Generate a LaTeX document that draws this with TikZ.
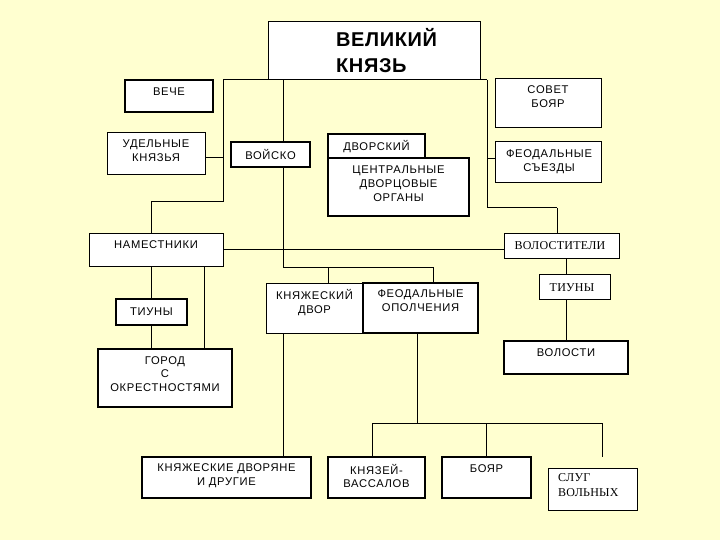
\documentclass[tikz,border=0pt]{standalone}
\usepackage{fontspec}
\newfontfamily\sns[LetterSpace=6]{Liberation Sans}
\newfontfamily\sttl[LetterSpace=3]{Liberation Sans}
\newfontfamily\srf[LetterSpace=2]{Liberation Serif}
\definecolor{bgy}{RGB}{255,255,208}
\begin{document}
\begin{tikzpicture}[x=1pt,y=-1pt,
  bx/.style={draw=black, fill=white, line width=1pt, inner sep=0pt, outer sep=0pt, anchor=north west},
  bxk/.style={bx, line width=1.6pt},
  tx/.style={inner sep=0pt, align=center, anchor=north, font=\sns\fontsize{11.2}{13.7}\selectfont, execute at begin node={\rule{0pt}{9pt}}},
  txs/.style={tx, font=\srf\fontsize{12}{15}\selectfont},
  ttl/.style={inner sep=0pt, align=left, anchor=north west, font=\sttl\bfseries\fontsize{20}{25.7}\selectfont, execute at begin node={\rule{0pt}{18pt}}},
  ln/.style={line width=1pt}]
\fill[bgy] (0,0) rectangle (720,540);
\useasboundingbox (0,0) rectangle (720,540);

% free junction points
\coordinate (jL) at (223,80);
\coordinate (jR) at (487,80);
\coordinate (jV) at (283,80);
\coordinate (a1) at (223,202);
\coordinate (jR2) at (487,208);
\coordinate (dV) at (557,208);
\coordinate (jD) at (283,267);
\coordinate (dA) at (328,267);
\coordinate (dB) at (433,267);
\coordinate (jB) at (417,423);
\coordinate (b1) at (372,423);
\coordinate (b3) at (602,423);
\coordinate (b3e) at (602,457);

% connectors (drawn first, boxes on top)
\draw[ln] (jL) -- (jR);
\draw[ln] (jR) -- (jR2) -- (dV);

% boxes
\node[bx, minimum width=212pt, minimum height=58pt] (title) at (268,22) {};
\node[ttl] (titleT) at (336,28) {ВЕЛИКИЙ\\КНЯЗЬ};

\node[bxk, minimum width=88pt, minimum height=32pt] (veche) at (125,80) {};
\node[tx] (vecheT) at (169,86) {ВЕЧЕ};

\node[bx, minimum width=106pt, minimum height=49pt] (sovet) at (495,79) {};
\node[tx] (sovetT) at (548,85.3) {СОВЕТ\\БОЯР};

\node[bx, minimum width=98pt, minimum height=42pt] (udel) at (107,133) {};
\node[tx] (udelT) at (156,140) {УДЕЛЬНЫЕ\\КНЯЗЬЯ};

\node[bxk, minimum width=79pt, minimum height=25pt] (voisko) at (231,142) {};
\node[tx] (voiskoT) at (270.5,149.3) {ВОЙСКО};

\node[bxk, minimum width=141pt, minimum height=58pt] (central) at (328,158) {};
\node[tx] (centralT) at (398.5,166) {ЦЕНТРАЛЬНЫЕ\\ДВОРЦОВЫЕ\\ОРГАНЫ};
\node[bxk, minimum width=97pt, minimum height=24pt] (dvorsky) at (328,134) {};
\node[tx] (dvorskyT) at (376.5,140.3) {ДВОРСКИЙ};

\node[bx, minimum width=106pt, minimum height=41pt] (sezdy) at (495,142) {};
\node[tx] (sezdyT) at (549,149.3) {ФЕОДАЛЬНЫЕ\\СЪЕЗДЫ};

\node[bx, minimum width=134pt, minimum height=33pt] (namest) at (89,233) {};
\node[tx] (namestT) at (156,239) {НАМЕСТНИКИ};

\node[bx, minimum width=115pt, minimum height=25pt] (volost) at (504,233) {};
\node[txs] (volostT) at (560,240.3) {ВОЛОСТИТЕЛИ};

\node[bx, minimum width=71pt, minimum height=25pt] (tiunyR) at (539,274) {};
\node[txs] (tiunyRT) at (572,282) {ТИУНЫ};

\node[bx, minimum width=97pt, minimum height=50pt] (kndvor) at (266,283) {};
\node[tx] (kndvorT) at (314.5,289.3) {КНЯЖЕСКИЙ\\ДВОР};
\node[bxk, minimum width=115pt, minimum height=50pt] (opolch) at (363,283) {};
\node[tx] (opolchT) at (420.5,289.3) {ФЕОДАЛЬНЫЕ\\ОПОЛЧЕНИЯ};

\node[bxk, minimum width=71pt, minimum height=26pt] (tiunyL) at (116,299) {};
\node[tx] (tiunyLT) at (151.5,306) {ТИУНЫ};

\node[bxk, minimum width=124pt, minimum height=33pt] (volosti) at (504,341) {};
\node[tx] (volostiT) at (566,347.7) {ВОЛОСТИ};

\node[bxk, minimum width=134pt, minimum height=58pt] (gorod) at (98,349) {};
\node[tx] (gorodT) at (165,356) {ГОРОД\\С\\ОКРЕСТНОСТЯМИ};

\node[bx, line width=1.2pt, minimum width=169pt, minimum height=41pt] (dvoryane) at (142,457) {};
\node[tx] (dvoryaneT) at (226.5,463.7) {КНЯЖЕСКИЕ ДВОРЯНЕ\\И ДРУГИЕ};

\node[bxk, minimum width=97pt, minimum height=41pt] (knyazei) at (328,457) {};
\node[tx] (knyazeiT) at (376.5,463.7) {КНЯЗЕЙ-\\ВАССАЛОВ};

\node[bxk, minimum width=89pt, minimum height=41pt] (boyar) at (442,457) {};
\node[tx] (boyarT) at (486.5,463.3) {БОЯР};

\node[bx, minimum width=89pt, minimum height=42pt] (slug) at (548,468) {};
\node[txs, align=left, anchor=north west] (slugT) at (558,473.7) {СЛУГ\\ВОЛЬНЫХ};

% connectors
\draw[ln] (jL) -- (a1) -| (tiunyL.north |- namest.north);
\draw[ln] ([yshift=-4pt]udel.east) -- ([yshift=-4pt]udel.east -| jL);
\draw[ln] (jV) -- (jV |- voisko.north);
\draw[ln] (jV |- voisko.south) -- (jD) -- (dB) -- (dB |- opolch.north);
\draw[ln] (dA) -- (dA |- kndvor.north);
\draw[ln] (dV) -- (dV |- volost.north);
\draw[ln] ([yshift=4pt]sezdy.west) -- ([yshift=4pt]sezdy.west -| jR);
\draw[ln] (namest.east) -- (namest.east -| volost.west);
\draw[ln] (tiunyL.north |- namest.south) -- (tiunyL.north);
\draw[ln] (tiunyL.south) -- (tiunyL.south |- gorod.north);
\draw[ln] ([xshift=48pt]namest.south) -- ([xshift=48pt]namest.south |- gorod.north);
\draw[ln] (volost.south -| volosti.north) -- (tiunyR.north -| volosti.north);
\draw[ln] (tiunyR.south -| volosti.north) -- (volosti.north);
\draw[ln] (kndvor.south -| jV) -- (jV |- dvoryane.north);
\draw[ln] (jB |- opolch.south) -- (jB);
\draw[ln] (b1) -- (b3) -- (b3e);
\draw[ln] (b1) -- (b1 |- knyazei.north);
\draw[ln] (boyar.north |- b1) -- (boyar.north);
\end{tikzpicture}
\end{document}
